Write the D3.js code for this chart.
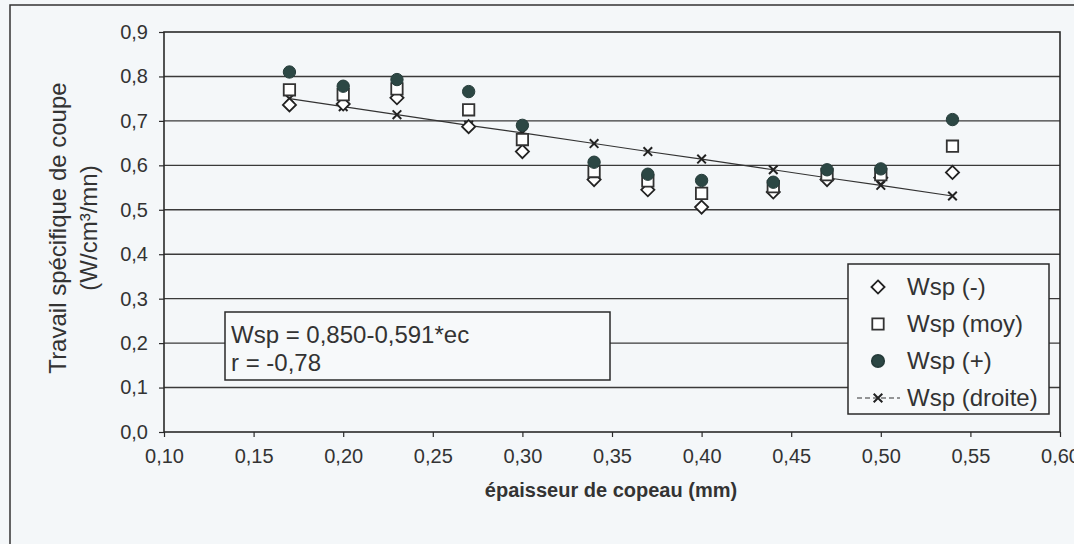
<!DOCTYPE html>
<html><head><meta charset="utf-8">
<script src="https://cdn.jsdelivr.net/npm/d3@7"></script>
<style>
html,body{margin:0;padding:0;background:#f4f7f9;}
svg{display:block;font-family:"Liberation Sans",Arial,sans-serif;}
</style></head>
<body>
<svg id="c" width="1074" height="544"></svg>
<script>
const xValues = [0.17,0.20,0.23,0.27,0.30,0.34,0.37,0.40,0.44,0.47,0.50,0.54];
const wspMinus = [0.736,0.738,0.752,0.687,0.631,0.568,0.545,0.506,0.540,0.568,0.572,0.584];
const wspMoy   = [0.770,0.759,0.772,0.725,0.658,0.586,0.565,0.537,0.552,0.579,0.579,0.643];
const wspPlus  = [0.810,0.778,0.793,0.766,0.690,0.607,0.580,0.566,0.562,0.590,0.592,0.703];
const wspDroite= [0.750,0.732,0.714,0.690,0.673,0.649,0.631,0.614,0.590,0.572,0.555,0.531];
const xTicks = [0.10,0.15,0.20,0.25,0.30,0.35,0.40,0.45,0.50,0.55,0.60];
const yTicks = [0.0,0.1,0.2,0.3,0.4,0.5,0.6,0.7,0.8,0.9];
const legendLabels = ["Wsp (-)","Wsp (moy)","Wsp (+)","Wsp (droite)"];
const equationLines = ["Wsp = 0,850-0,591*ec","r = -0,78"];
const yTitle = ["Travail spécifique de coupe","(W/cm³/mn)"];
const xTitle = "épaisseur de copeau (mm)";

const svg = d3.select("#c");
const ink = "#2a2a2a";
const L=164,R=1060,T=32,B=432;
const x = d3.scaleLinear().domain([0.10,0.60]).range([L,R]);
const y = d3.scaleLinear().domain([0,0.9]).range([B,T]);
const fmt = (d,n)=>d.toFixed(n).replace(".",",");

// outer frame
svg.append("rect").attr("x",10).attr("y",5).attr("width",1100).attr("height",600)
  .attr("fill","none").attr("stroke","#333").attr("stroke-width",1.5);

// gridlines
svg.append("g").selectAll("line").data(yTicks.filter(d=>d>0&&d<0.9)).join("line")
  .attr("x1",L).attr("x2",R).attr("y1",d=>y(d)).attr("y2",d=>y(d))
  .attr("stroke","#3a3a3a").attr("stroke-width",1.4);

// plot border
svg.append("rect").attr("x",L).attr("y",T).attr("width",R-L).attr("height",B-T)
  .attr("fill","none").attr("stroke",ink).attr("stroke-width",1.6);

// axes
const yAxis = d3.axisLeft(y).tickValues(yTicks).tickFormat(d=>fmt(d,1)).tickSize(5).tickPadding(11);
const gy = svg.append("g").attr("transform",`translate(${L},0)`).call(yAxis);
const xAxis = d3.axisBottom(x).tickValues(xTicks).tickFormat(d=>fmt(d,2)).tickSize(5).tickPadding(12);
const gx = svg.append("g").attr("transform",`translate(0,${B})`).call(xAxis);
[gy,gx].forEach(g=>{
  g.select(".domain").remove();
  g.selectAll(".tick line").attr("stroke",ink).attr("stroke-width",1.2);
  g.selectAll(".tick text").attr("fill","#333").style("font-size","20px");
});

// titles
const yt = svg.append("text").attr("transform","translate(66,228) rotate(-90)")
  .attr("text-anchor","middle").attr("fill","#333").style("font-size","24px");
yt.append("tspan").attr("x",0).attr("dy",0).text(yTitle[0]);
yt.append("tspan").attr("x",0).attr("dy",31).text(yTitle[1]);
svg.append("text").attr("x",611).attr("y",497).attr("text-anchor","middle")
  .attr("fill","#333").style("font-size","20px").style("font-weight","bold").text(xTitle);

// data
const pts = (arr)=>xValues.map((v,i)=>[v,arr[i]]);
const line = d3.line().x(d=>x(d[0])).y(d=>y(d[1]));
svg.append("path").datum(pts(wspDroite)).attr("d",line).attr("fill","none")
  .attr("stroke","#333").attr("stroke-width",1.1);

const cross = d3.symbol().type(d3.symbolX).size(50);
const sq = d3.symbol().type(d3.symbolSquare).size(130);
const dia = d3.symbol().type(d3.symbolDiamond2).size(110);
const circ = d3.symbol().type(d3.symbolCircle).size(120);

function drawMarkers(data, sym, fill, stroke, sw){
  svg.append("g").selectAll("path").data(data).join("path")
    .attr("transform",d=>`translate(${x(d[0])},${y(d[1])})`)
    .attr("d",sym).attr("fill",fill).attr("stroke",stroke).attr("stroke-width",sw);
}
drawMarkers(pts(wspDroite), cross, "none", "#222", 2);
drawMarkers(pts(wspMinus), dia, "#fff", "#222", 1.8);
drawMarkers(pts(wspMoy), sq, "#fff", "#333", 1.8);
drawMarkers(pts(wspPlus), circ, "#2c4744", "#263c3a", 1);

// equation box
svg.append("rect").attr("x",225).attr("y",312).attr("width",385).attr("height",68)
  .attr("fill","#f7f9fa").attr("stroke",ink).attr("stroke-width",1.5);
svg.append("g").selectAll("text").data(equationLines).join("text")
  .attr("x",231).attr("y",(d,i)=>343+i*28).attr("fill","#333").style("font-size","24px").text(d=>d);

// legend
const lg = svg.append("g");
lg.append("rect").attr("x",848).attr("y",264).attr("width",201).attr("height",150)
  .attr("fill","#f7f9fa").attr("stroke",ink).attr("stroke-width",1.5);
const ly = i=>287+i*37;
const legSyms = [dia,sq,circ,cross];
const legFill = ["#fff","#fff","#2c4744","none"];
const legStroke = ["#222","#333","#263c3a","#222"];
lg.append("line").attr("x1",857).attr("x2",900).attr("y1",ly(3)).attr("y2",ly(3))
  .attr("stroke","#333").attr("stroke-width",1.1).attr("stroke-dasharray","5,3");
legendLabels.forEach((t,i)=>{
  lg.append("path").attr("transform",`translate(878,${ly(i)})`).attr("d",legSyms[i])
    .attr("fill",legFill[i]).attr("stroke",legStroke[i]).attr("stroke-width",i==3?2:1.8);
  lg.append("text").attr("x",907).attr("y",ly(i)).attr("dy","0.35em")
    .attr("fill","#333").style("font-size","24px").text(t);
});
</script>
</body></html>
